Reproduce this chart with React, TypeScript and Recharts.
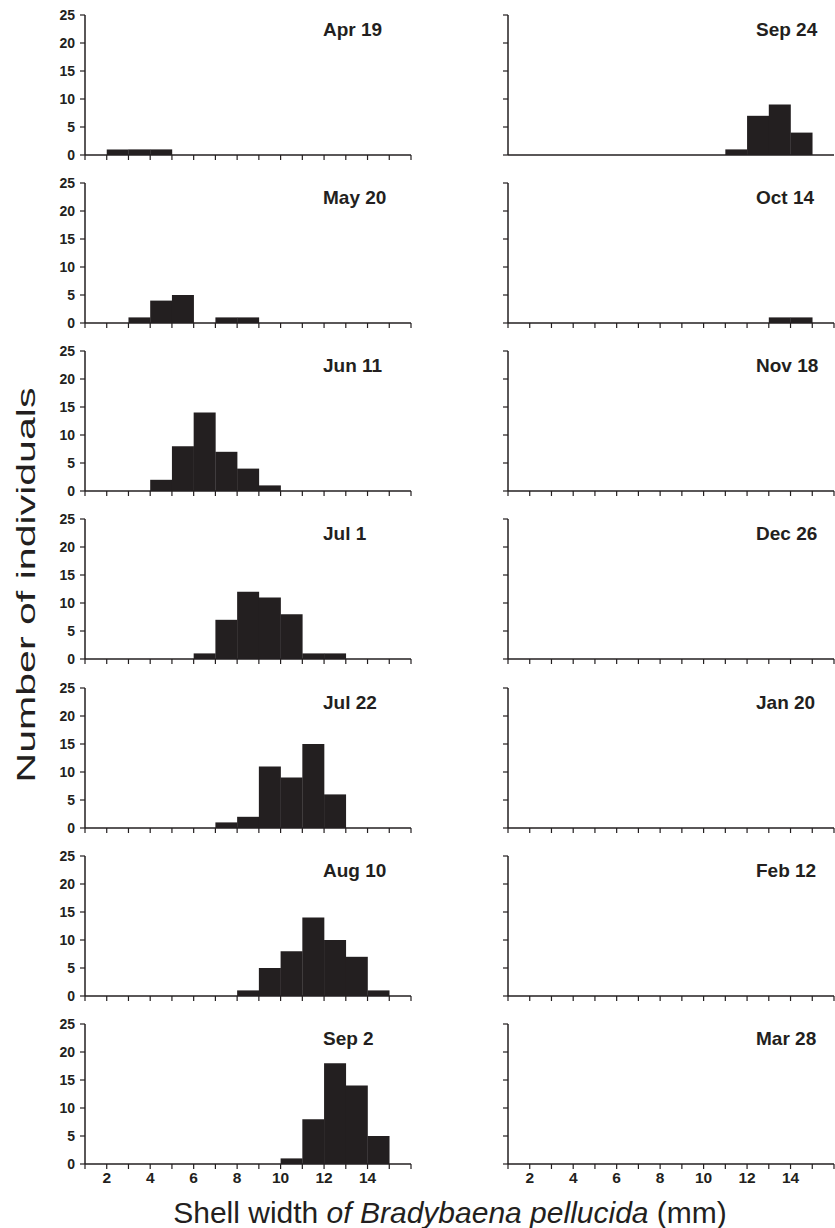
import React from 'react';
import { BarChart, Bar, XAxis, YAxis } from 'recharts';

// ---- data ----
const bins = ['1-2', '2-3', '3-4', '4-5', '5-6', '6-7', '7-8', '8-9', '9-10', '10-11', '11-12', '12-13', '13-14', '14-15', '15-16'];
const binMids = [1.5, 2.5, 3.5, 4.5, 5.5, 6.5, 7.5, 8.5, 9.5, 10.5, 11.5, 12.5, 13.5, 14.5, 15.5];
const xTickValues = [1, 2, 3, 4, 5, 6, 7, 8, 9, 10, 11, 12, 13, 14, 15, 16];
const xTickLabels = [2, 4, 6, 8, 10, 12, 14];
const yTicks = [0, 5, 10, 15, 20, 25];

const apr19 = [0, 1, 1, 1, 0, 0, 0, 0, 0, 0, 0, 0, 0, 0, 0];
const may20 = [0, 0, 1, 4, 5, 0, 1, 1, 0, 0, 0, 0, 0, 0, 0];
const jun11 = [0, 0, 0, 2, 8, 14, 7, 4, 1, 0, 0, 0, 0, 0, 0];
const jul1 = [0, 0, 0, 0, 0, 1, 7, 12, 11, 8, 1, 1, 0, 0, 0];
const jul22 = [0, 0, 0, 0, 0, 0, 1, 2, 11, 9, 15, 6, 0, 0, 0];
const aug10 = [0, 0, 0, 0, 0, 0, 0, 1, 5, 8, 14, 10, 7, 1, 0];
const sep2 = [0, 0, 0, 0, 0, 0, 0, 0, 0, 1, 8, 18, 14, 5, 0];
const sep24 = [0, 0, 0, 0, 0, 0, 0, 0, 0, 0, 1, 7, 9, 4, 0];
const oct14 = [0, 0, 0, 0, 0, 0, 0, 0, 0, 0, 0, 0, 1, 1, 0];
const nov18 = [0, 0, 0, 0, 0, 0, 0, 0, 0, 0, 0, 0, 0, 0, 0];
const dec26 = [0, 0, 0, 0, 0, 0, 0, 0, 0, 0, 0, 0, 0, 0, 0];
const jan20 = [0, 0, 0, 0, 0, 0, 0, 0, 0, 0, 0, 0, 0, 0, 0];
const feb12 = [0, 0, 0, 0, 0, 0, 0, 0, 0, 0, 0, 0, 0, 0, 0];
const mar28 = [0, 0, 0, 0, 0, 0, 0, 0, 0, 0, 0, 0, 0, 0, 0];

const leftDates = ['Apr 19', 'May 20', 'Jun 11', 'Jul 1', 'Jul 22', 'Aug 10', 'Sep 2'];
const leftSeries = [apr19, may20, jun11, jul1, jul22, aug10, sep2];
const rightDates = ['Sep 24', 'Oct 14', 'Nov 18', 'Dec 26', 'Jan 20', 'Feb 12', 'Mar 28'];
const rightSeries = [sep24, oct14, nov18, dec26, jan20, feb12, mar28];

const yTitle = 'Number of individuals';

// ---- style ----
const INK = '#231f20';
const FONT = '"Liberation Sans", Arial, Helvetica, sans-serif';
const ROW = 168.15;

type PanelProps = {
  date: string;
  values: number[];
  side: 'left' | 'right';
  row: number;
  bottom: boolean;
  xTicksOn: boolean;
};

function Panel({ date, values, side, row, bottom, xTicksOn }: PanelProps) {
  const data = bins.map((b, i) => ({ bin: b, mid: binMids[i], count: values[i] }));
  const left = side === 'left' ? 0 : 423;
  const width = side === 'left' ? 420 : 412;
  const rightMargin = width - 85 - 326;
  const top = Math.round(row * ROW);
  const height = bottom ? 190 : 168;
  const xAxisHeight = height - 155;
  const labelX = side === 'left' ? 323 - left : 756 - left;

  const xTick = (p: any) => {
    if (!bottom || !xTickLabels.includes(p.payload.value)) return <g />;
    return (
      <text x={p.x} y={p.y} dy="0.71em" textAnchor="middle" fontSize={15.5} fontWeight="bold" fill={INK} fontFamily={FONT}>
        {p.payload.value}
      </text>
    );
  };
  const yTick = (p: any) => {
    if (side === 'right') return <g />;
    return (
      <text x={p.x} y={p.y} dy="0.36em" textAnchor="end" fontSize={14} fontWeight="bold" fill={INK} fontFamily={FONT}>
        {p.payload.value}
      </text>
    );
  };

  return (
    <div style={{ position: 'absolute', left, top, width, height }}>
      <BarChart
        width={width}
        height={height}
        data={data}
        margin={{ top: 15, right: rightMargin, left: 0, bottom: 0 }}
        barCategoryGap={0}
        barGap={0}
      >
        <XAxis xAxisId="cat" dataKey="bin" type="category" orientation="top" height={0} hide />
        <XAxis
          xAxisId="num"
          dataKey="mid"
          type="number"
          orientation="bottom"
          domain={[1, 16]}
          ticks={xTickValues}
          interval={0}
          allowDataOverflow
          height={xAxisHeight}
          axisLine={{ stroke: INK, strokeWidth: 1.5 }}
          tickLine={xTicksOn ? { stroke: INK, strokeWidth: 1.2 } : false}
          tickSize={5}
          tickMargin={3}
          tick={xTick}
        />
        <YAxis
          domain={[0, 25]}
          ticks={yTicks}
          interval={0}
          width={85}
          axisLine={{ stroke: INK, strokeWidth: 1.5 }}
          tickLine={{ stroke: INK, strokeWidth: 1.2 }}
          tickSize={5}
          tickMargin={5}
          tick={yTick}
        />
        <Bar xAxisId="cat" dataKey="count" fill={INK} isAnimationActive={false} />
      </BarChart>
      <svg style={{ position: 'absolute', left: 0, top: 0, pointerEvents: 'none' }} width={width} height={height}>
        <text x={labelX} y={36} fontSize={19} fontWeight="bold" fill={INK} fontFamily={FONT}>
          {date}
        </text>
      </svg>
    </div>
  );
}

export default function App() {
  return (
    <div style={{ position: 'absolute', left: 0, top: 0, width: 835, height: 1228, background: '#fff', overflow: 'hidden' }}>
      {leftDates.map((d, i) => (
        <Panel key={d} date={d} values={leftSeries[i]} side="left" row={i} bottom={i === 6} xTicksOn={true} />
      ))}
      {rightDates.map((d, i) => (
        <Panel key={d} date={d} values={rightSeries[i]} side="right" row={i} bottom={i === 6} xTicksOn={i !== 0} />
      ))}
      <svg style={{ position: 'absolute', left: 0, top: 0, pointerEvents: 'none' }} width={835} height={1228}>
        <text
          transform="translate(35,585) rotate(-90)"
          textAnchor="middle"
          fontSize={25}
          fill={INK}
          fontFamily={FONT}
          textLength={395}
          lengthAdjust="spacingAndGlyphs"
        >
          {yTitle}
        </text>
        <text x={450} y={1223} textAnchor="middle" fontSize={30} fill={INK} fontFamily={FONT}>
          Shell width <tspan fontStyle="italic">of Bradybaena pellucida</tspan> (mm)
        </text>
      </svg>
    </div>
  );
}
